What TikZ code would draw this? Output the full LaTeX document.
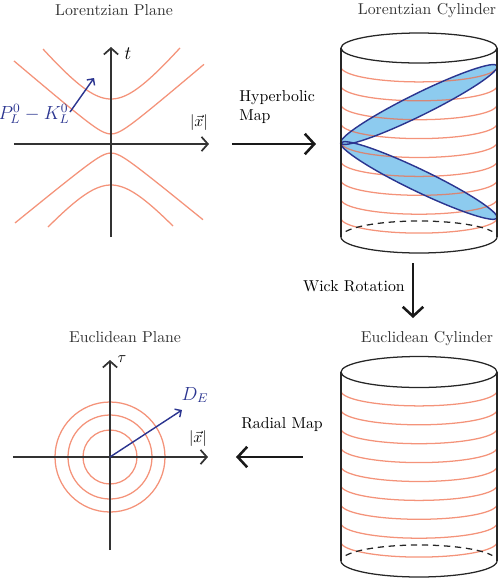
\documentclass[tikz,border=0pt]{standalone}
\usepackage{amsmath,amssymb}
\usepackage{xcolor}
\usepackage{tikz}
\usetikzlibrary{arrows.meta}
\definecolor{ringorange}{HTML}{F06F4D}
\definecolor{wavefill}{HTML}{8DCBEF}
\definecolor{wavenavy}{HTML}{2B3590}
\definecolor{axisgray}{HTML}{333333}

\begin{document}
\begin{tikzpicture}[
  x=0.633pt, y=-0.633pt,
  title/.style={text=axisgray, inner sep=0pt, anchor=base},
  lbl/.style={inner sep=0pt},
  axis/.style={-{Straight Barb[length=4pt,width=9pt]}, line width=1.1pt, axisgray},
  ring/.style={ringorange, draw opacity=0.75, line width=0.8pt},
  rim/.style={black!85, line width=0.8pt},
  wave/.style={fill=wavefill},
  waveline/.style={draw=wavenavy, line width=0.9pt},
  vec/.style={-{Straight Barb[length=3pt,width=6pt]}, wavenavy, line width=0.9pt},
  maparr/.style={-{Straight Barb[length=6pt,width=13pt]}, line width=1.6pt, black!90},
]
\useasboundingbox (0,0) rectangle (498,579);

% Lorentzian plane
\node[title] (lpTitle) at (114,15) {Lorentzian Plane};
\coordinate (lo) at (111,144);
\coordinate (lxS) at (14,144);
\coordinate (lxE) at (209,144);
\coordinate (ltS) at (111,237);
\coordinate (ltE) at (111,47);
\draw[ring] plot[domain=43:180, samples=60] (\x, {144-sqrt(45^2+(1.23*(\x-111))^2)});
\draw[ring] plot[domain=14:204, samples=60] (\x, {144-sqrt(10^2+(0.85*(\x-111))^2)});
\draw[ring] plot[domain=15:203, samples=60] (\x, {144+sqrt(9^2+(0.817*(\x-111))^2)});
\draw[ring] plot[domain=48:173, samples=60] (\x, {144+sqrt(41^2+(1.146*(\x-111))^2)});
\draw[axis] (lxS) -- (lxE);
\draw[axis] (ltS) -- (ltE);
\node[lbl] (tLbl) at (128,54) {\large $t$};
\node[lbl] (lxLbl) at (199,123) {$|\vec{x}|$};
\coordinate (pS) at (70,112);
\coordinate (pE) at (94,78);
\draw[vec] (pS) -- (pE);
\node[lbl, text=wavenavy] (pLbl) at (34,114) {\large $P_L^0-K_L^0$};

% Hyperbolic map
\coordinate (hypS) at (232,144);
\coordinate (hypE) at (316,144);
\draw[maparr] (hypS) -- (hypE);
\node[lbl, anchor=north west, align=left] (hypLbl) at (239,90) {Hyperbolic\\Map};

% Lorentzian cylinder
\node[title] (lcTitle) at (427,14) {Lorentzian Cylinder};
\foreach \ang/\cy/\rx in {-25.7/180.5/86.6, 26.3/104.5/87.4}
  \fill[wave, rotate around={\ang:(419,\cy)}] (419,\cy) ellipse [x radius=\rx, y radius=11];
\foreach \k in {1,...,9}
  \draw[ring] plot[domain=0:180, samples=40] ({419+78*cos(\x)}, {48+18.9*\k+15*sin(\x)});
\foreach \ang/\cy/\rx in {-25.7/180.5/86.6, 26.3/104.5/87.4}
  \draw[waveline, rotate around={\ang:(419,\cy)}] (419,\cy) ellipse [x radius=\rx, y radius=11];
\draw[rim] (419,48) ellipse [x radius=78, y radius=15];
\draw[rim] (341,48) -- (341,237) (497,48) -- (497,237);
\draw[rim] plot[domain=0:180, samples=40] ({419+78*cos(\x)}, {237+16*sin(\x)});
\draw[rim, dash pattern=on 4pt off 3pt] plot[domain=200:340, samples=40] ({419+78*cos(\x)}, {237+16*sin(\x)});

% Wick rotation
\coordinate (wickS) at (413,263);
\coordinate (wickE) at (413,318);
\draw[maparr] (wickS) -- (wickE);
\node[lbl, anchor=base east] (wickLbl) at (405,291) {Wick Rotation};

% Euclidean cylinder
\node[title] (ecTitle) at (427,342) {Euclidean Cylinder};
\foreach \k in {1,...,9}
  \draw[ring] plot[domain=0:180, samples=40] ({419+78*cos(\x)}, {372+18.9*\k+15*sin(\x)});
\draw[rim] (419,372) ellipse [x radius=78, y radius=15.5];
\draw[rim] (341,372) -- (341,561) (497,372) -- (497,561);
\draw[rim] plot[domain=0:180, samples=40] ({419+78*cos(\x)}, {561+16*sin(\x)});
\draw[rim, dash pattern=on 4pt off 3pt] plot[domain=200:340, samples=40] ({419+78*cos(\x)}, {561+16*sin(\x)});

% Radial map
\coordinate (radS) at (303,457);
\coordinate (radE) at (236,457);
\draw[maparr] (radS) -- (radE);
\node[lbl, anchor=base] (radLbl) at (282,428) {Radial Map};

% Euclidean plane
\node[title] (epTitle) at (125,342) {Euclidean Plane};
\coordinate (eo) at (110,457);
\coordinate (exS) at (13,457);
\coordinate (exE) at (208,457);
\coordinate (etS) at (110,550);
\coordinate (etE) at (110,360);
\foreach \r in {27,42,55}
  \draw[ring] (eo) circle [radius=\r];
\draw[axis] (exS) -- (exE);
\draw[axis] (etS) -- (etE);
\node[lbl] (tauLbl) at (122,359) {$\tau$};
\node[lbl] (exLbl) at (198,439) {$|\vec{x}|$};
\coordinate (dE) at (182,410);
\draw[vec] (eo) -- (dE);
\node[lbl, text=wavenavy] (dLbl) at (195,395) {\large $D_E$};

\end{tikzpicture}
\end{document}
